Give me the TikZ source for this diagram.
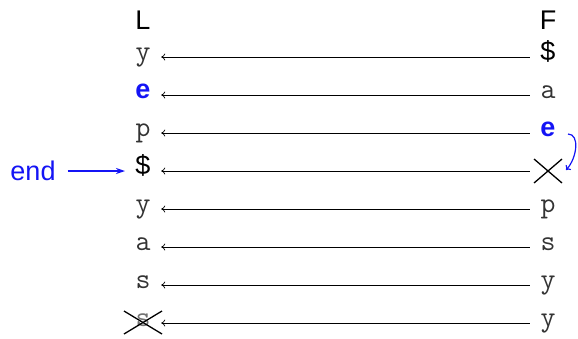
\documentclass[tikz,border=0pt]{standalone}
\usepackage{fontspec}
\setmainfont{Liberation Sans}
\usetikzlibrary{arrows.meta}
\definecolor{myblue}{RGB}{20,20,245}
\begin{document}
\begin{tikzpicture}[x=1pt,y=-1pt,
  lt/.style={inner sep=0pt,minimum width=36pt,text height=6pt,text depth=0pt,text=black!80,font=\fontsize{29}{30}\selectfont\ttfamily},
  st/.style={inner sep=0pt,minimum width=36pt,text height=6pt,text depth=0pt,font=\fontsize{27}{30}\selectfont},
  bl/.style={st,text=myblue,font=\fontsize{27}{30}\selectfont\bfseries},
  hd/.style={inner sep=0pt,font=\fontsize{27}{30}\selectfont},
  link/.style={draw,line width=0.7pt,-{To[length=4pt,width=7pt]}},
  cross/.style={line width=1.3pt}]
\useasboundingbox (0,0) rectangle (578,338);
\node[hd] (hL) at (143,20) {L};
\node[hd] (hF) at (548,20) {F};
% L column
\node[lt] (L1) at (143,57) {y};
\node[bl] (L2) at (143,95) {e};
\node[lt] (L3) at (143,133) {p};
\node[st] (L4) at (143,171) {\$};
\node[lt] (L5) at (143,209) {y};
\node[lt] (L6) at (143,247) {a};
\node[lt] (L7) at (143,285) {s};
\node[lt,text=black!55] (L8) at (143,323) {s};
% F column
\node[st] (F1) at (548,57) {\$};
\node[lt] (F2) at (548,95) {a};
\node[bl] (F3) at (548,133) {e};
\node[lt] (F4) at (548,171) {};
\node[lt] (F5) at (548,209) {p};
\node[lt] (F6) at (548,247) {s};
\node[lt] (F7) at (548,285) {y};
\node[lt] (F8) at (548,323) {y};
\foreach \i in {1,...,8}{\draw[link] (F\i.west) -- (L\i.east);}
% crosses
\draw[cross] ([shift={(-14,-12)}]F4.center) -- ([shift={(14,12)}]F4.center);
\draw[cross] ([shift={(-14,12)}]F4.center) -- ([shift={(14,-12)}]F4.center);
\draw[cross] ([shift={(-19,-12)}]L8.center) -- ([shift={(19,11)}]L8.center);
\draw[cross] ([shift={(-19,11)}]L8.center) -- ([shift={(19,-12)}]L8.center);
% end
\node[hd,text=myblue] (end) at (33,171) {end};
\draw[myblue,line width=1.2pt,-{Stealth[length=9pt,width=6pt]}] (end.east) ++(12,0) coordinate (e0) (e0) -- ([xshift=-18pt]L4.center);
% curved blue arrow
\coordinate (c0) at ([xshift=20pt,yshift=-1pt]F3.center);
\coordinate (c1) at ([xshift=18pt,yshift=1pt]F4.center);
\draw[myblue,line width=1.2pt,-{To[length=4pt,width=7pt]}] (c0) .. controls +(12,0) and +(11,-12) .. (c1);
\end{tikzpicture}
\end{document}
